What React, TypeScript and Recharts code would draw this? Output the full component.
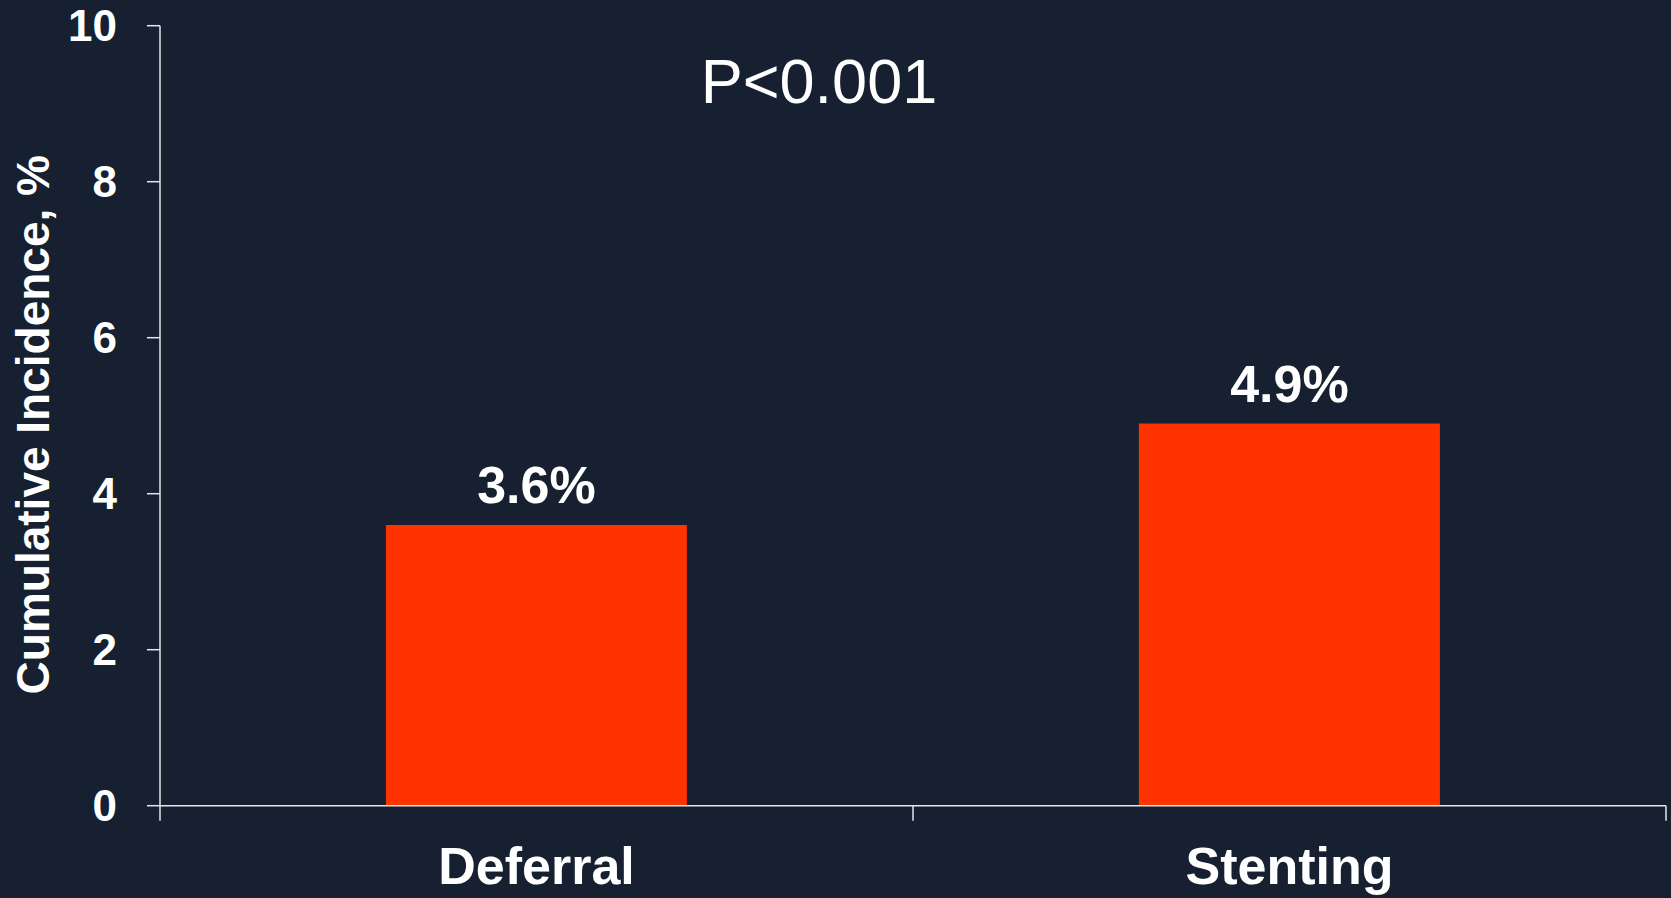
import React from 'react'
import { BarChart, Bar, XAxis, YAxis, LabelList } from 'recharts'

const categories = ['Deferral', 'Stenting']
const incidence = [3.6, 4.9]
const yTicks = [0, 2, 4, 6, 8, 10]
const groupEdges = [0, 1, 2]
const pValueText = 'P<0.001'
const yTitle = 'Cumulative Incidence, %'

const BG = '#162030'
const BAR = '#ff3300'
const AXIS = '#e4e6ea'
const FONT = '"Liberation Sans", Arial, Helvetica, sans-serif'

const data = categories.map((name, i) => ({ name, value: incidence[i], edge: 0 }))

const YTitle = (props: any) => {
  const vb = props.viewBox || { x: 0, y: 26, width: 160, height: 780 }
  const cx = 32.5
  const cy = vb.y + vb.height / 2 + 9
  return (
    <text
      x={cx}
      y={cy}
      dy="0.36em"
      transform={`rotate(-90 ${cx} ${cy})`}
      textAnchor="middle"
      fill="#ffffff"
      fontSize={46}
      fontWeight="bold"
      fontFamily={FONT}
    >
      {yTitle}
    </text>
  )
}

// empty tick so only the tick lines of the boundary axis are drawn
const NoLabel = () => <g />

export default function App() {
  return (
    <div
      style={{
        position: 'absolute',
        left: 0,
        top: 0,
        width: 1671,
        height: 898,
        background: BG,
        overflow: 'hidden',
        fontFamily: FONT,
      }}
    >
      <BarChart
        width={1671}
        height={898}
        data={data}
        margin={{ top: 25.7, right: 5, left: 0, bottom: 0 }}
        barCategoryGap="30%"
      >
        <XAxis
          xAxisId="cat"
          dataKey="name"
          height={92.2}
          axisLine={{ stroke: AXIS, strokeWidth: 1.5 }}
          tickLine={false}
          tickSize={0}
          tickMargin={41}
          interval={0}
          tick={{ fill: '#ffffff', fontSize: 52, fontWeight: 'bold', fontFamily: FONT }}
        />
        {/* tick marks at the group boundaries */}
        <XAxis
          xAxisId={0}
          type="number"
          dataKey="edge"
          domain={[0, 2]}
          ticks={groupEdges}
          interval={0}
          height={0.1}
          axisLine={false}
          tick={NoLabel}
          tickLine={{ stroke: AXIS, strokeWidth: 1.5 }}
          tickSize={15}
        />
        <YAxis
          width={160}
          domain={[0, 10]}
          ticks={yTicks}
          interval={0}
          axisLine={{ stroke: AXIS, strokeWidth: 1.5 }}
          tickLine={{ stroke: AXIS, strokeWidth: 1.5 }}
          tickSize={13}
          tickMargin={30}
          tick={{ fill: '#ffffff', fontSize: 44, fontWeight: 'bold', fontFamily: FONT }}
          label={{ content: <YTitle /> }}
        />
        <Bar xAxisId="cat" dataKey="value" fill={BAR} isAnimationActive={false}>
          <LabelList
            dataKey="value"
            position="top"
            offset={22}
            formatter={(v: any) => `${v}%`}
            fill="#ffffff"
            fontSize={52}
            fontWeight="bold"
            fontFamily={FONT}
          />
        </Bar>
      </BarChart>
      <div
        style={{
          position: 'absolute',
          left: 0,
          top: 50,
          width: 1638,
          textAlign: 'center',
          color: '#ffffff',
          fontSize: 63,
          lineHeight: '63px',
          fontFamily: FONT,
        }}
      >
        {pValueText}
      </div>
    </div>
  )
}
